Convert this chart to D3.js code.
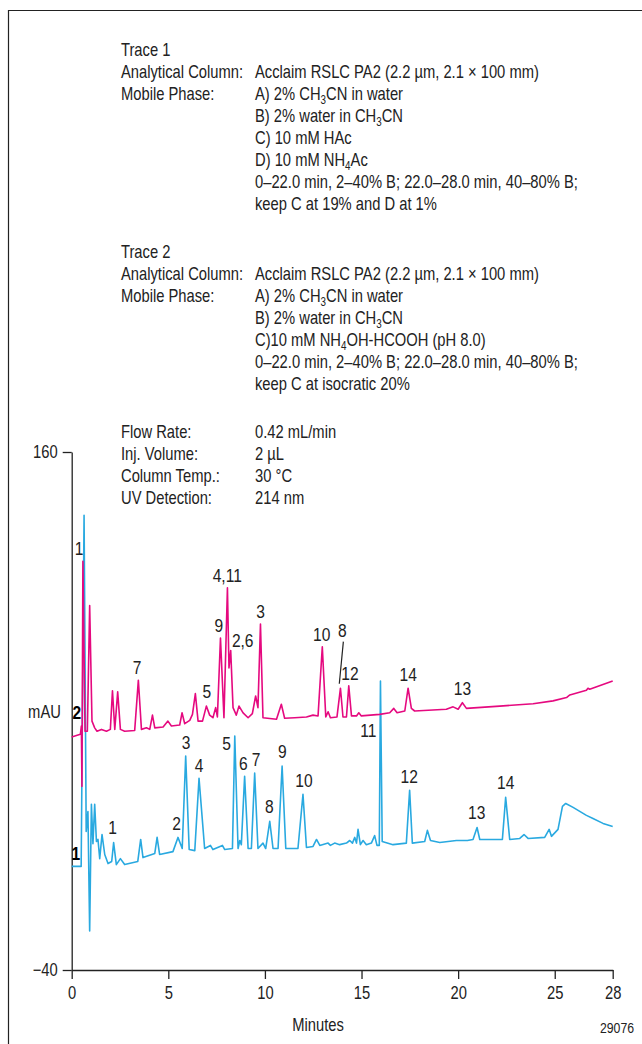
<!DOCTYPE html>
<html>
<head>
<meta charset="utf-8">
<script src="https://cdn.jsdelivr.net/npm/d3@7/dist/d3.min.js"></script>
<style>
body{margin:0;background:#fff;}
svg{display:block;font-family:"Liberation Sans",Arial,sans-serif;}
</style>
</head>
<body>
<div id="chart"></div>
<script>
// axis ticks
const xTicks = [0, 5, 10, 15, 20, 25, 28];
const yTicks = [160, -40];

// trace 1 (blue), [minutes, mAU]
const trace1 = [[0,0],[0.49,0],[0.64,135.6],[0.75,13.5],[0.84,21.2],[0.93,-24.9],[1.02,24.0],[1.10,8.8],[1.19,24.0],[1.28,9.6],[1.36,10.4],[1.45,3.0],[1.57,12.3],[1.71,4.6],[1.88,1.1],[2.07,1.9],[2.17,9.2],[2.31,0.7],[2.52,3.0],[2.74,0.7],[3.42,1.9],[3.57,10.4],[3.69,3.4],[4.30,5.0],[4.42,11.2],[4.55,4.6],[5.24,5.7],[5.50,11.2],[5.72,6.9],[5.90,42.6],[6.08,6.5],[6.37,6.1],[6.59,34.0],[6.88,6.9],[7.18,8.1],[7.31,6.5],[7.80,8.1],[7.92,6.5],[8.32,6.9],[8.44,50.3],[8.61,6.9],[8.70,10.0],[8.78,8.4],[8.95,34.8],[9.13,6.9],[9.30,6.9],[9.47,36.0],[9.64,6.9],[9.90,9.0],[10.04,6.9],[10.25,17.4],[10.42,6.9],[10.68,6.9],[10.89,38.7],[11.08,6.9],[11.71,6.9],[11.97,27.8],[12.15,7.3],[12.49,7.7],[12.67,10.4],[12.84,8.1],[13.27,9.0],[13.39,8.1],[13.61,9.0],[13.87,8.4],[14.22,9.0],[14.39,10.0],[14.53,9.0],[14.65,11.2],[14.74,9.0],[14.82,14.3],[14.94,8.4],[15.08,10.0],[15.25,8.4],[15.51,9.0],[15.68,11.9],[15.80,8.1],[15.92,8.1],[15.98,71.6],[16.07,9.6],[16.63,8.4],[17.32,9.0],[17.49,29.4],[17.63,9.0],[18.27,9.6],[18.41,13.9],[18.57,10.0],[19.05,9.2],[19.91,10.0],[20.48,10.0],[20.77,10.4],[20.98,15.0],[21.12,10.4],[21.98,10.4],[22.29,10.4],[22.46,26.7],[22.67,10.4],[23.19,10.8],[23.41,12.3],[23.62,10.8],[24.48,11.2],[24.71,14.3],[24.83,11.6],[25.17,14.3],[25.40,23.2],[25.57,24.3],[25.95,22.8],[26.64,19.7],[26.98,18.5],[27.50,16.6],[28.0,15.4]];

// trace 2 (magenta), [minutes, mAU]
const trace2 = [[0,50.0],[0.45,51.0],[0.50,54.2],[0.53,30.9],[0.58,117.8],[0.69,52.2],[0.81,52.2],[0.93,100.7],[1.05,56.1],[1.19,53.5],[1.31,52.2],[1.54,52.9],[1.80,52.2],[2.00,52.9],[2.11,67.8],[2.23,52.9],[2.38,67.4],[2.52,52.9],[2.74,52.2],[3.26,52.5],[3.45,71.9],[3.61,52.9],[3.87,53.5],[4.04,52.9],[4.18,58.4],[4.30,53.5],[4.73,53.8],[4.98,56.1],[5.16,54.2],[5.59,54.6],[5.71,59.3],[5.85,55.1],[6.11,56.4],[6.25,58.7],[6.40,66.7],[6.54,56.1],[6.77,56.1],[6.97,61.9],[7.14,58.4],[7.31,57.4],[7.45,61.3],[7.54,57.7],[7.70,88.2],[7.88,57.4],[8.06,107.6],[8.14,76.6],[8.23,83.3],[8.35,61.3],[8.52,58.4],[8.66,61.9],[8.87,59.3],[9.13,57.4],[9.35,59.0],[9.52,65.8],[9.64,61.3],[9.77,93.6],[9.90,57.4],[10.60,56.8],[10.85,62.6],[11.02,57.2],[11.54,57.4],[12.15,57.7],[12.49,58.4],[12.75,58.1],[12.97,84.8],[13.15,57.7],[13.27,59.7],[13.39,57.4],[13.73,57.7],[13.91,68.8],[14.04,57.7],[14.22,57.7],[14.34,69.7],[14.48,58.1],[14.74,58.1],[14.86,59.3],[14.99,58.1],[15.94,58.7],[16.46,59.3],[16.67,61.0],[16.84,59.3],[17.24,60.0],[17.41,68.8],[17.58,61.0],[17.75,60.0],[19.39,60.7],[19.74,61.6],[20.00,60.7],[20.22,63.2],[20.43,61.0],[22.15,61.9],[23.88,62.8],[24.91,63.9],[25.61,65.2],[25.78,66.2],[26.64,68.0],[26.72,68.8],[26.81,68.4],[28.0,71.6]];

// peak labels [text, minutes, mAU]
const trace1Peaks = [["1",2.12,15.2],["2",5.43,16.8],["3",5.92,48.0],["4",6.59,39.2],["5",8.02,47.6],["6",8.88,39.8],["7",9.54,41.5],["8",10.23,23.1],["9",10.90,44.3],["10",12.02,33.4],["11",15.35,52.7],["12",17.47,34.6],["13",20.96,20.7],["14",22.46,32.3]];
const trace2Peaks = [["1",0.38,122.9],["7",3.38,77.0],["5",7.00,67.7],["9",7.62,93.2],["4,11",8.05,112.5],["2,6",8.85,87.4],["3",9.78,98.6],["10",12.94,89.7],["8",14.01,91.3],["12",14.40,74.6],["14",17.42,74.3],["13",20.22,68.8]];
const leader8 = [[14.06,86.8],[13.85,70.5]];
const traceNames = [["2",0.27,59.6],["1",0.22,5.2]];

// condition text, "_n" marks a subscript
const info1 = [
    ["Trace 1", ""],
    ["Analytical Column:", "Acclaim RSLC PA2 (2.2 µm, 2.1 × 100 mm)"],
    ["Mobile Phase:", "A) 2% CH_3CN in water"],
    ["", "B) 2% water in CH_3CN"],
    ["", "C) 10 mM HAc"],
    ["", "D) 10 mM NH_4Ac"],
    ["", "0–22.0 min, 2–40% B; 22.0–28.0 min, 40–80% B;"],
    ["", "keep C at 19% and D at 1%"]
];
const info2 = [
    ["Trace 2", ""],
    ["Analytical Column:", "Acclaim RSLC PA2 (2.2 µm, 2.1 × 100 mm)"],
    ["Mobile Phase:", "A) 2% CH_3CN in water"],
    ["", "B) 2% water in CH_3CN"],
    ["", "C)10 mM NH_4OH-HCOOH (pH 8.0)"],
    ["", "0–22.0 min, 2–40% B; 22.0–28.0 min, 40–80% B;"],
    ["", "keep C at isocratic 20%"]
];
const info3 = [
    ["Flow Rate:", "0.42 mL/min"],
    ["Inj. Volume:", "2 µL"],
    ["Column Temp.:", "30 °C"],
    ["UV Detection:", "214 nm"]
];

const width = 642, height = 1044;
const ink = '#222';
const blue = '#29a9e0', pink = '#e5097f';
const narrow = 0.82;   // no condensed face installed, squeeze Liberation Sans instead

const svg = d3.select('#chart').append('svg')
    .attr('width', width)
    .attr('height', height);

// frame
svg.append('path')
    .attr('d', 'M8.5,1044V10.5H642')
    .attr('fill', 'none')
    .attr('stroke', ink)
    .attr('stroke-width', 1.2);

const x = d3.scaleLinear().domain([0, 28]).range([71.7, 612.7]);
const y = d3.scaleLinear().domain([-40, 160]).range([970, 452]);

function addText(parent, px, py, size){
    return parent.append('text')
        .attr('transform', `translate(${px},${py}) scale(${narrow},1)`)
        .attr('font-size', size)
        .attr('fill', ink);
}

function richText(sel, str){
    let parts = str.split(/_(\d)/);
    parts.forEach((p, i)=>{
        if(i % 2 == 1){
            sel.append('tspan').attr('font-size', 12).attr('dy', 4).text(p);
        }
        else if(p.length){
            sel.append('tspan').attr('dy', i > 0 ? -4 : 0).text(p);
        }
    });
}

function drawInfo(rows, top){
    let g = svg.append('g');
    rows.forEach((r, i)=>{
        addText(g, 121, top + i * 22, 18).text(r[0]);
        if(r[1]) richText(addText(g, 255, top + i * 22, 18), r[1]);
    });
}
drawInfo(info1, 56);
drawInfo(info2, 258);
drawInfo(info3, 438);

// axes
let xAxis = svg.append('g')
    .attr('transform', `translate(0,${y(-40)})`)
    .call(d3.axisBottom(x).tickValues(xTicks).tickSize(9).tickSizeOuter(0).tickPadding(7).tickFormat(d3.format('d')));
let yAxis = svg.append('g')
    .attr('transform', `translate(${x(0)},0)`)
    .call(d3.axisLeft(y).tickValues(yTicks).tickSize(9).tickSizeOuter(0).tickPadding(5));
[xAxis, yAxis].forEach(a=>{
    a.attr('font-family', null).attr('font-size', 18);
    a.selectAll('path, line').attr('stroke', ink).attr('stroke-width', 1.3);
    a.selectAll('text').attr('fill', ink)
        .attr('x', function(){ return (+d3.select(this).attr('x') || 0) / narrow; })
        .attr('transform', `scale(${narrow},1)`);
});

addText(svg, 44.5, y(59.6), 18).attr('dy', '0.35em').attr('text-anchor', 'middle').text('mAU');
addText(svg, 318, 1025, 18).attr('dy', '0.35em').attr('text-anchor', 'middle').text('Minutes');
addText(svg, 617, 1028, 15).attr('dy', '0.35em').attr('text-anchor', 'middle').text('29076');

// traces
let line = d3.line().x(d=>x(d[0])).y(d=>y(d[1]));
svg.append('path').datum(trace1)
    .attr('d', line).attr('fill', 'none')
    .attr('stroke', blue).attr('stroke-width', 1.6).attr('stroke-linejoin', 'round');
svg.append('path').datum(trace2)
    .attr('d', line).attr('fill', 'none')
    .attr('stroke', pink).attr('stroke-width', 1.6).attr('stroke-linejoin', 'round');

svg.append('path').datum(leader8)
    .attr('d', line).attr('stroke', ink).attr('stroke-width', 1.2);

// peak numbers
let peakG = svg.append('g');
trace1Peaks.concat(trace2Peaks).forEach(d=>{
    addText(peakG, x(d[1]), y(d[2]), 19).attr('dy', '0.35em').attr('text-anchor', 'middle').text(d[0]);
});
traceNames.forEach(d=>{
    addText(peakG, x(d[1]), y(d[2]), 19).attr('dy', '0.35em').attr('text-anchor', 'middle')
        .attr('font-weight', 'bold').attr('fill', '#000').text(d[0]);
});
</script>
</body>
</html>
